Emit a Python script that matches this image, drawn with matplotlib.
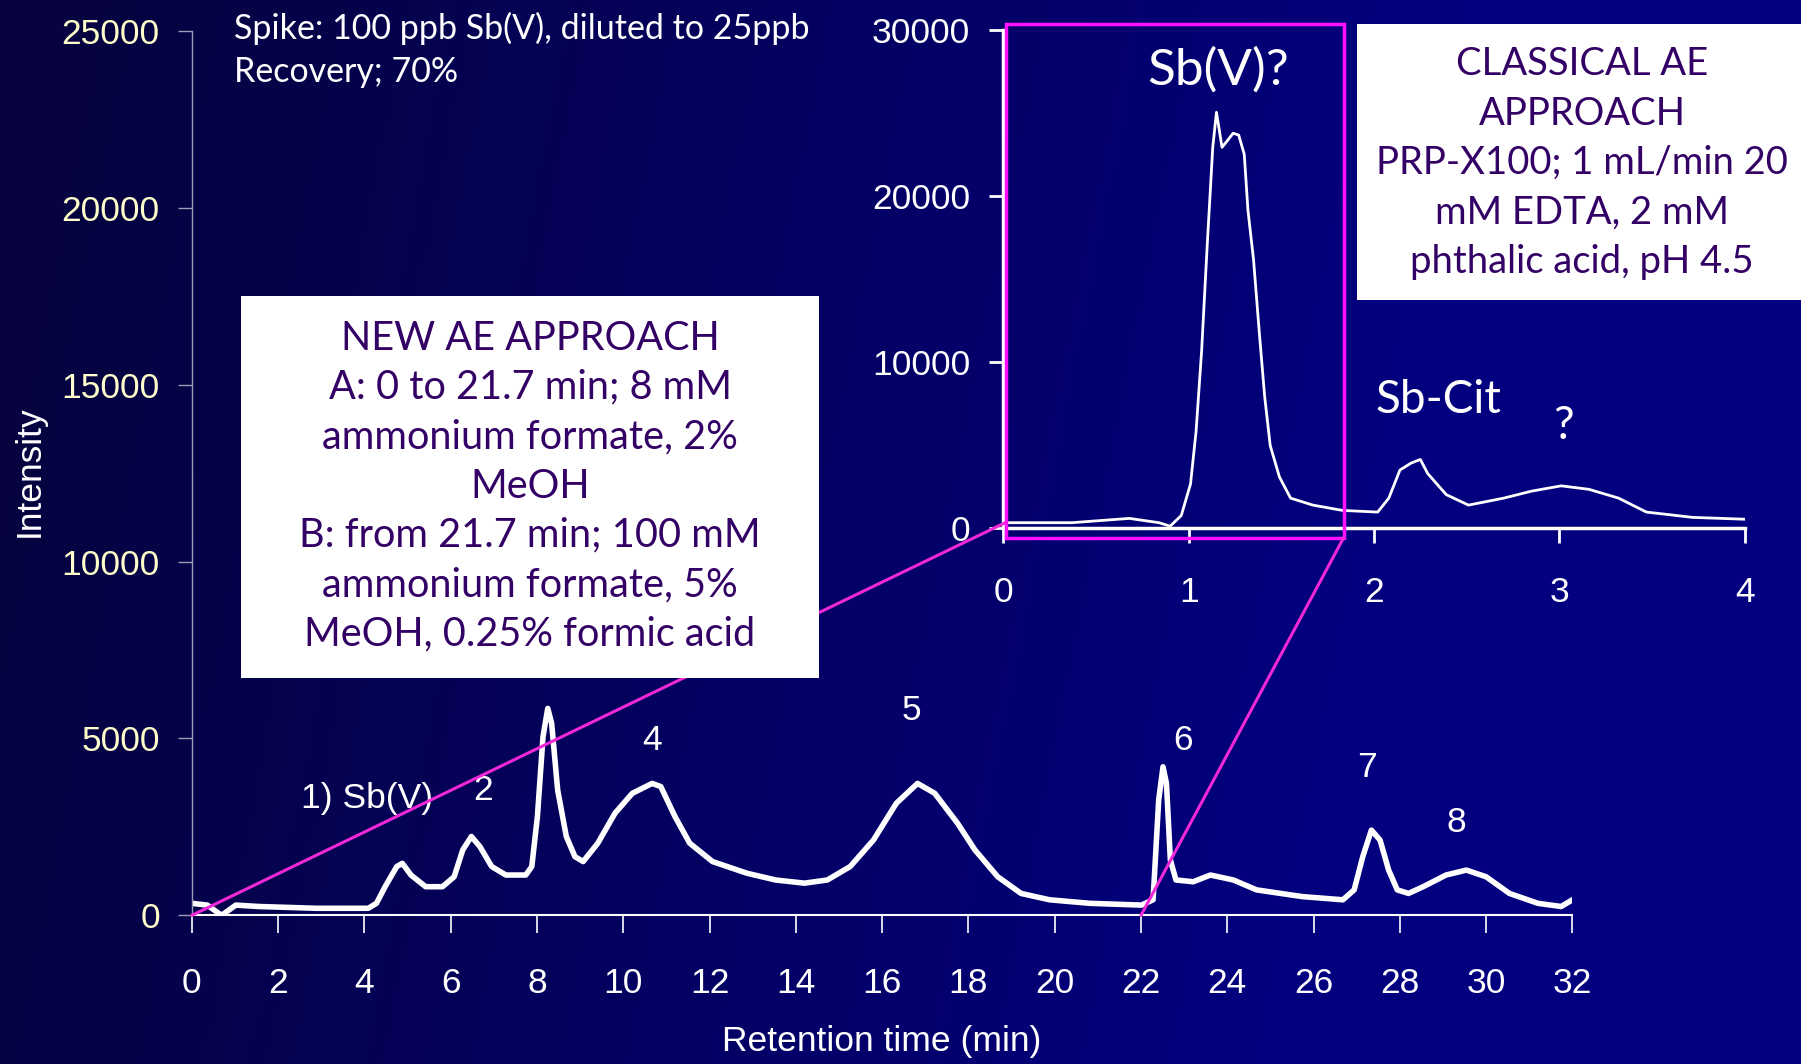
import numpy as np
import matplotlib.pyplot as plt
from matplotlib.colors import LinearSegmentedColormap
from matplotlib.patches import Rectangle, ConnectionPatch

# chromatogram with the new AE method (retention time in min, intensity in counts)
main_t = [0.0, 0.36, 0.69, 1.02, 1.56, 2.89, 4.09, 4.28, 4.48, 4.75, 4.88, 5.08, 5.42,
          5.81, 6.08, 6.28, 6.48, 6.68, 6.95, 7.28, 7.74, 7.88, 8.01, 8.14, 8.25, 8.34,
          8.48, 8.68, 8.88, 9.07, 9.41, 9.81, 10.21, 10.67, 10.87, 11.2, 11.54, 12.07,
          12.87, 13.53, 14.2, 14.73, 15.26, 15.8, 16.33, 16.82, 17.22, 17.75, 18.15,
          18.68, 19.22, 19.88, 20.82, 22.01, 22.28, 22.41, 22.51, 22.59, 22.68, 22.81,
          23.21, 23.61, 24.14, 24.68, 25.74, 26.68, 26.94, 27.14, 27.34, 27.54, 27.74,
          27.94, 28.2, 28.54, 29.07, 29.54, 30.0, 30.54, 31.2, 31.74, 32.0]
main_i = [340, 290, 0, 290, 250, 200, 200, 340, 810, 1380, 1470, 1140, 810,
          810, 1090, 1850, 2230, 1940, 1380, 1140, 1140, 1380, 2790, 5050, 5850, 5430,
          3540, 2230, 1660, 1520, 2040, 2890, 3450, 3730, 3640, 2790, 2040, 1520,
          1190, 1000, 910, 1000, 1380, 2130, 3170, 3730, 3450, 2600, 1850,
          1090, 620, 440, 340, 290, 440, 3260, 4200, 3730, 1570, 1000,
          950, 1140, 1000, 720, 530, 440, 720, 1660, 2410, 2130, 1280,
          720, 620, 810, 1140, 1280, 1090, 620, 340, 250, 440]

# first 4 min with the classical AE method
inset_t = [0.02, 0.37, 0.68, 0.84, 0.9, 0.96, 1.01, 1.04, 1.07, 1.1, 1.13, 1.15, 1.18,
           1.21, 1.24, 1.27, 1.3, 1.32, 1.35, 1.38, 1.41, 1.44, 1.49, 1.55, 1.67, 1.83,
           2.02, 2.08, 2.14, 2.2, 2.25, 2.29, 2.39, 2.51, 2.7, 2.85, 3.01, 3.16, 3.32,
           3.47, 3.72, 4.0]
inset_i = [310, 310, 570, 310, 100, 740, 2640, 5810, 10670, 17000, 22920, 25030, 22920,
           23340, 23770, 23660, 22500, 19120, 16160, 11930, 7920, 4960, 3060, 1790, 1370, 1050,
           950, 1790, 3480, 3900, 4120, 3270, 2000, 1370, 1790, 2210, 2530, 2320, 1790,
           950, 630, 520]

peak_names = ['1) Sb(V)', '2', '4', '5', '6', '7', '8']
peak_t = [4.07, 6.76, 10.67, 16.69, 22.98, 27.24, 29.3]
peak_y = [3312, 3539, 4935, 5779, 4935, 4188, 2630]

inset_names = ['Sb(V)?', 'Sb-Cit', '?']
inset_name_t = [1.16, 2.35, 3.02]
inset_name_y = [27570, 7708, 6124]
inset_name_size = [37, 33, 33]

new_method = ('NEW AE APPROACH\nA: 0 to 21.7 min; 8 mM\nammonium formate, 2%\nMeOH\n'
              'B: from 21.7 min; 100 mM\nammonium formate, 5%\nMeOH, 0.25% formic acid')
old_method = 'CLASSICAL AE\nAPPROACH\nPRP-X100; 1 mL/min 20\nmM EDTA, 2 mM\nphthalic acid, pH 4.5'

arial = 'Liberation Sans'
calibri = 'Lato'
magenta = '#f028d8'
box_text = '#330066'

fig = plt.figure(figsize=(18.01, 10.64), dpi=100)

# navy slide background, brighter towards the right
bg = fig.add_axes([0, 0, 1, 1], zorder=-5)
bg.axis('off')
X, Y = np.meshgrid(np.linspace(0, 1, 400), np.linspace(0, 1, 240))
shade = np.clip(1.3 * X + 0.15 * (Y - 0.5), 0, 1)
navy = LinearSegmentedColormap.from_list('navy', ['#060340', '#02007f'])
bg.imshow(shade, cmap=navy, aspect='auto', extent=[0, 1, 0, 1], vmin=0, vmax=1)

# main chromatogram
ax = fig.add_axes([0.1065, 0.1397, 0.7666, 0.8312], zorder=0)
ax.set_facecolor('none')
ax.plot(main_t, main_i, color='white', lw=4, solid_joinstyle='round')
ax.set_xlim(0, 32)
ax.set_ylim(0, 25000)
ax.set_xticks(range(0, 33, 2))
ax.set_yticks(range(0, 25001, 5000))
for s in ['top', 'right']:
    ax.spines[s].set_visible(False)
ax.spines['left'].set_color('#9c9cb4')
ax.spines['left'].set_linewidth(1)
ax.spines['bottom'].set_color('white')
ax.spines['bottom'].set_linewidth(1.5)
ax.tick_params(axis='x', colors='white', length=13, width=1.2, pad=24, labelsize=25.5)
ax.tick_params(axis='y', color='#9c9cb4', labelcolor='#ffffcc', length=10, width=1,
               pad=13, labelsize=25.5)
for lab in ax.get_xticklabels() + ax.get_yticklabels():
    lab.set_family(arial)
ax.set_xlabel('Retention time (min)', color='white', fontsize=25.5, family=arial, va='center')
ax.xaxis.set_label_coords(0.5, -0.143)
ax.set_ylabel('Intensity', color='white', fontsize=25.5, family=arial, va='center')
ax.yaxis.set_label_coords(-0.118, 0.5025)

for name, t, y in zip(peak_names, peak_t, peak_y):
    ax.text(t, y, name, color='white', fontsize=25.5, family=arial, ha='center', va='center')

# zoomed view of the first minutes
axin = fig.add_axes([0.5571, 0.5039, 0.4116, 0.4681], zorder=1)
axin.set_facecolor('none')
axin.plot(inset_t, inset_i, color='white', lw=2)
axin.set_xlim(0, 4)
axin.set_ylim(0, 30000)
axin.set_xticks(range(0, 5))
axin.set_yticks(range(0, 30001, 10000))
for s in ['top', 'right']:
    axin.spines[s].set_visible(False)
for s in ['left', 'bottom']:
    axin.spines[s].set_color('white')
    axin.spines[s].set_linewidth(2.5)
axin.tick_params(axis='x', colors='white', length=11, width=2, pad=24, labelsize=25.5)
axin.tick_params(axis='y', colors='white', length=10, width=2, pad=14, labelsize=25.5)
for lab in axin.get_xticklabels() + axin.get_yticklabels():
    lab.set_family(arial)
for name, t, y, sz in zip(inset_names, inset_name_t, inset_name_y, inset_name_size):
    axin.text(t, y, name, color='white', fontsize=sz, family=calibri, ha='center', va='center')

# magenta frame around the Sb(V)? region and the lines back to the main trace
axin.add_patch(Rectangle((0.014, -600), 1.822, 30950, fill=False, ec='#ff10ff', lw=2.5,
                         clip_on=False, zorder=5))
link1 = ConnectionPatch(xyA=(0, 0), coordsA=ax.transData, xyB=(0.014, 330), coordsB=axin.transData,
                        color=magenta, lw=2.2, zorder=2)
link2 = ConnectionPatch(xyA=(22.0, 0), coordsA=ax.transData, xyB=(1.836, -600), coordsB=axin.transData,
                        color=magenta, lw=2.2, zorder=2)
fig.add_artist(link1)
fig.add_artist(link2)

# method description boxes
fig.add_artist(Rectangle((0.1338, 0.3628), 0.3209, 0.359, transform=fig.transFigure,
                         fc='white', ec='none', zorder=3))
fig.text(0.2943, 0.5432, new_method, color=box_text, fontsize=28.5, family=calibri,
         ha='center', va='center', multialignment='center', linespacing=1.41, zorder=4)
fig.add_artist(Rectangle((0.7535, 0.718), 0.2465, 0.2594, transform=fig.transFigure,
                         fc='white', ec='none', zorder=3))
fig.text(0.8784, 0.8468, old_method, color=box_text, fontsize=27.5, family=calibri,
         ha='center', va='center', multialignment='center', linespacing=1.46, zorder=4)

fig.text(0.13, 1 - 28 / 1064, 'Spike: 100 ppb Sb(V), diluted to 25ppb', color='white',
         fontsize=24.5, family=calibri, va='center')
fig.text(0.13, 1 - 72 / 1064, 'Recovery; 70%', color='white', fontsize=24.5, family=calibri,
         va='center')

fig.savefig('out.png', dpi=100)
